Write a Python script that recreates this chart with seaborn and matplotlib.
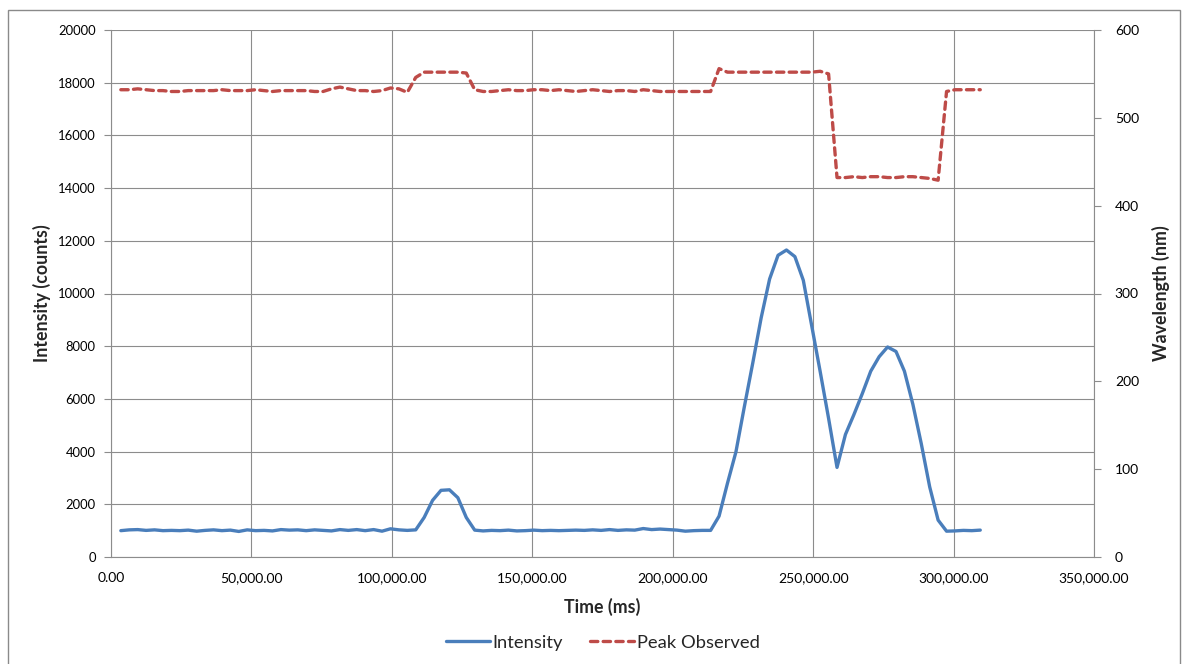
import matplotlib
matplotlib.use("Agg")
import matplotlib.pyplot as plt
from matplotlib.ticker import FuncFormatter, MultipleLocator
from matplotlib.lines import Line2D
from matplotlib.patches import Rectangle
import seaborn as sns
import pandas as pd

# Sample times (ms)
time_ms = [
    3500, 6500, 9500, 12500, 15500, 18500, 21500, 24500, 27500, 30500,
    33500, 36500, 39500, 42500, 45500, 48500, 51500, 54500, 57500, 60500,
    63500, 66500, 69500, 72500, 75500, 78500, 81500, 84500, 87500, 90500,
    93500, 96500, 99500, 102500, 105500, 108500, 111500, 114500, 117500, 120500,
    123500, 126500, 129500, 132500, 135500, 138500, 141500, 144500, 147500, 150500,
    153500, 156500, 159500, 162500, 165500, 168500, 171500, 174500, 177500, 180500,
    183500, 186500, 189500, 192500, 195500, 198500, 201500, 204500, 207500, 210500,
    213500, 216500, 219500, 222500, 225500, 228500, 231500, 234500, 237500, 240500,
    243500, 246500, 249500, 252500, 255500, 258500, 261500, 264500, 267500, 270500,
    273500, 276500, 279500, 282500, 285500, 288500, 291500, 294500, 297500, 300500,
    303500, 306500, 309500,
]

# Detector intensity (counts)
intensity = [
    1000, 1030, 1040, 1010, 1030, 1000, 1010, 1000, 1020, 980,
    1010, 1030, 1000, 1020, 970, 1030, 1000, 1010, 990, 1040,
    1020, 1030, 1000, 1030, 1010, 990, 1040, 1010, 1040, 1000,
    1040, 980, 1070, 1030, 1010, 1030, 1500, 2150, 2530, 2550,
    2250, 1500, 1020, 990, 1010, 1000, 1020, 990, 1000, 1020,
    1000, 1010, 1000, 1010, 1020, 1010, 1030, 1010, 1040, 1010,
    1030, 1020, 1080, 1040, 1060, 1040, 1020, 980, 1000, 1010,
    1010, 1550, 2800, 3985, 5700, 7360, 9080, 10550, 11450, 11650,
    11400, 10500, 8770, 7040, 5260, 3400, 4650, 5400, 6200, 7050,
    7600, 7970, 7800, 7050, 5800, 4300, 2660, 1400, 980, 990,
    1010, 1000, 1020,
]

# Peak wavelength observed (nm)
peak_nm = [
    532, 532, 533, 532, 531, 531, 530, 530, 531, 531,
    531, 531, 532, 531, 531, 531, 532, 531, 530, 531,
    531, 531, 531, 530, 530, 533, 535, 533, 531, 531,
    530, 531, 534, 533, 529, 546, 552, 552, 552, 552,
    552, 551, 532, 530, 530, 531, 532, 531, 531, 532,
    532, 531, 532, 531, 530, 531, 532, 531, 530, 531,
    531, 530, 532, 531, 530, 530, 530, 530, 530, 530,
    530, 556, 552, 552, 552, 552, 552, 552, 552, 552,
    552, 552, 552, 553, 550, 432, 432, 433, 432, 433,
    433, 432, 432, 433, 433, 432, 431, 429, 530, 532,
    532, 532, 532,
]

df = pd.DataFrame({"time": time_ms, "intensity": intensity, "peak": peak_nm})

sns.set_style("white")
plt.rcParams["font.family"] = ["Lato", "DejaVu Sans"]

BLUE = "#4A7EBB"
RED = "#BE4B48"
GRID = "#8C8C8C"
DASH = (0, (2.2, 1.6))

fig = plt.figure(figsize=(11.82, 6.64), dpi=100)
ax = fig.add_axes([111 / 1182, 1 - 557 / 664, (1094 - 111) / 1182, (557 - 30) / 664])

# Outer chart border
fig.patches.append(Rectangle((8 / 1182, -0.01), (1180 - 8) / 1182, 1 - 10 / 664 + 0.01,
                             transform=fig.transFigure, fill=False,
                             edgecolor="#8A8A8A", linewidth=1.0))

sns.lineplot(data=df, x="time", y="intensity", ax=ax, color=BLUE, linewidth=2.4,
             solid_joinstyle="round", solid_capstyle="round", zorder=3)

ax2 = ax.twinx()
sns.lineplot(data=df, x="time", y="peak", ax=ax2, color=RED, linewidth=2.4,
             zorder=3)
ax2.lines[0].set_linestyle(DASH)
ax2.lines[0].set_dash_capstyle("round")

ax.set_xlim(0, 350000)
ax.set_ylim(0, 20000)
ax2.set_ylim(0, 600)
ax.xaxis.set_major_locator(MultipleLocator(50000))
ax.yaxis.set_major_locator(MultipleLocator(2000))
ax2.yaxis.set_major_locator(MultipleLocator(100))
ax.xaxis.set_major_formatter(FuncFormatter(lambda v, p: f"{v:,.2f}"))

ax.grid(True, color=GRID, linewidth=0.8)
ax.set_axisbelow(True)

for a in (ax, ax2):
    for s in a.spines.values():
        s.set_color(GRID)
        s.set_linewidth(0.8)
    a.spines["top"].set_visible(False)
ax.spines["right"].set_visible(False)
ax2.spines["left"].set_visible(False)
ax2.spines["bottom"].set_visible(False)

ax.tick_params(axis="both", which="major", direction="out", length=5, width=0.8,
               color=GRID, labelcolor="#000000")
ax.tick_params(axis="y", labelsize=9.4, pad=6)
ax.tick_params(axis="x", labelsize=10, pad=6)
ax2.tick_params(axis="y", direction="out", length=5, width=0.8, color=GRID,
                labelsize=10, labelcolor="#000000", pad=10)

ax.set_xlabel("Time (ms)", fontsize=12.8, fontweight="bold", labelpad=10)
ax.set_ylabel("Intensity (counts)", fontsize=12.8, fontweight="bold", labelpad=5)
ax2.set_ylabel("Wavelength (nm)", fontsize=12.8, fontweight="bold", labelpad=9)

handles = [
    Line2D([0], [0], color=BLUE, linewidth=2.4),
    Line2D([0], [0], color=RED, linewidth=2.4, linestyle=DASH,
           dash_capstyle="round"),
]
fig.legend(handles, ["Intensity", "Peak Observed"], loc="center",
           bbox_to_anchor=(0.51, 0.032), ncol=2, frameon=False, fontsize=13.2,
           handlelength=2.4, handletextpad=0.15, columnspacing=1.5)

fig.savefig("out.png", dpi=100, facecolor="white")
